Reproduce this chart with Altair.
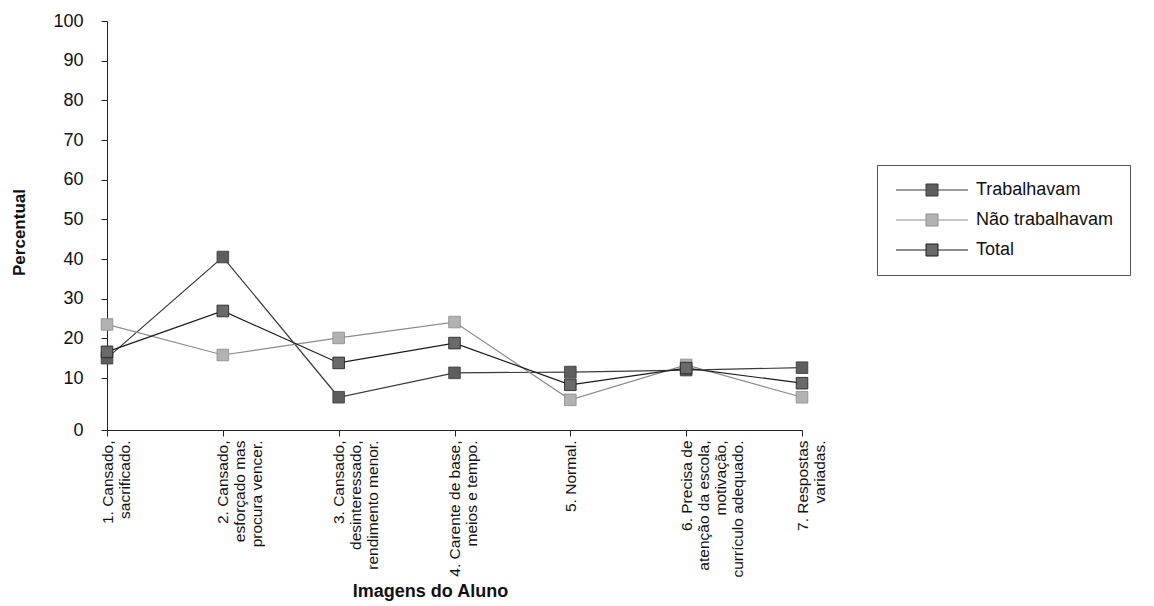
import altair as alt
import pandas as pd

# Categories on the x axis; "|" marks a line break inside the label
categories = [
    "1. Cansado,|sacrificado.",
    "2. Cansado,|esforçado mas|procura vencer.",
    "3. Cansado,|desinteressado,|rendimento menor.",
    "4. Carente de base,|meios e tempo.",
    "5. Normal.",
    "6. Precisa de|atenção da escola,|motivação,|currículo adequado.",
    "7. Respostas|variadas.",
]

series_names = ["Trabalhavam", "Não trabalhavam", "Total"]

# Percentages per category, one list per group of students
trabalhavam = [15.0, 40.5, 6.3, 11.3, 11.5, 12.0, 12.6]
nao_trabalhavam = [23.5, 15.8, 20.1, 24.1, 5.8, 13.3, 6.3]
total = [16.6, 26.9, 13.8, 18.8, 8.7, 12.5, 9.0]

y_ticks = [0, 10, 20, 30, 40, 50, 60, 70, 80, 90, 100]

marker_colors = ["#5e5e5e", "#b2b2b2", "#6a6a6a"]
line_colors = ["#3a3a3a", "#8c8c8c", "#1a1a1a"]

rows = []
for name, values in zip(series_names, [trabalhavam, nao_trabalhavam, total]):
    for i, (cat, v) in enumerate(zip(categories, values)):
        rows.append({"imagem": cat, "serie": name, "percentual": v, "ordem": i})
df = pd.DataFrame(rows)

FONT = "Liberation Sans"
W, H = 695, 409

x_enc = alt.X(
    "imagem:N",
    sort=categories,
    scale=alt.Scale(type="point", padding=0),
    axis=alt.Axis(
        labelExpr="split(datum.label, '|')",
        labelAngle=-90,
        labelFont=FONT,
        labelFontSize=15.5,
        labelLineHeight=17,
        labelColor="#111",
        labelPadding=4,
        labelOverlap=False,
        tickSize=6,
        tickColor="#222",
        domainColor="#222",
        title="Imagens do Aluno",
        titleFont=FONT,
        titleFontSize=18,
        titleFontWeight="bold",
        titleColor="#111",
        titleX=323,
        titleY=166,
        titleAlign="center",
        titleBaseline="alphabetic",
        grid=False,
    ),
)

y_enc = alt.Y(
    "percentual:Q",
    scale=alt.Scale(domain=[0, 10, 100], range=[H, 357, 0], nice=False, zero=False),
    axis=alt.Axis(
        values=y_ticks,
        labelFont=FONT,
        labelFontSize=18,
        labelColor="#111",
        labelPadding=18,
        tickSize=6,
        tickColor="#222",
        domainColor="#222",
        title="Percentual",
        titleFont=FONT,
        titleFontSize=17,
        titleFontWeight="bold",
        titleColor="#111",
        titleX=-88,
        titleY=211,
        titleAlign="center",
        titleBaseline="middle",
        grid=False,
    ),
)

# non-breaking spaces widen the legend frame to the right
legend_label = "datum.label + '" + "\u00a0" * 16 + "'"

stroke_enc = alt.Stroke(
    "serie:N",
    scale=alt.Scale(domain=series_names, range=line_colors),
    legend=alt.Legend(title=None, labelExpr=legend_label),
)
fill_enc = alt.Fill(
    "serie:N",
    scale=alt.Scale(domain=series_names, range=marker_colors),
    legend=alt.Legend(title=None, labelExpr=legend_label),
)

lines = alt.Chart(df).mark_line(strokeWidth=1.2).encode(
    x=x_enc, y=y_enc, stroke=stroke_enc, order="ordem:Q"
)
points = alt.Chart(df).mark_point(
    shape="square", filled=True, size=135, opacity=1, strokeWidth=0.8
).encode(x=x_enc, y=y_enc, fill=fill_enc, stroke=stroke_enc)

# legend symbol: a short line with a square marker in its middle
symbol_path = "M-6,0H-1M1,0H6M-1,-1H1V1H-1Z"

chart = (
    alt.layer(lines, points)
    .properties(
        width=W,
        height=H,
        autosize=alt.AutoSizeParams(type="none"),
        padding={"left": 107, "top": 21, "right": 352, "bottom": 176},
        background="white",
    )
    .configure_view(strokeWidth=0)
    .configure_legend(
        orient="none",
        legendX=770,
        legendY=144,
        padding=16,
        strokeColor="#555",
        strokeWidth=1,
        fillColor="white",
        symbolType=symbol_path,
        symbolSize=144,
        symbolStrokeWidth=1,
        symbolOffset=30,
        labelOffset=35,
        labelFont=FONT,
        labelFontSize=18,
        labelColor="#111",
        labelLimit=500,
        rowPadding=12,
    )
)

chart.save("out.html", embed_options={"renderer": "svg", "actions": False})
